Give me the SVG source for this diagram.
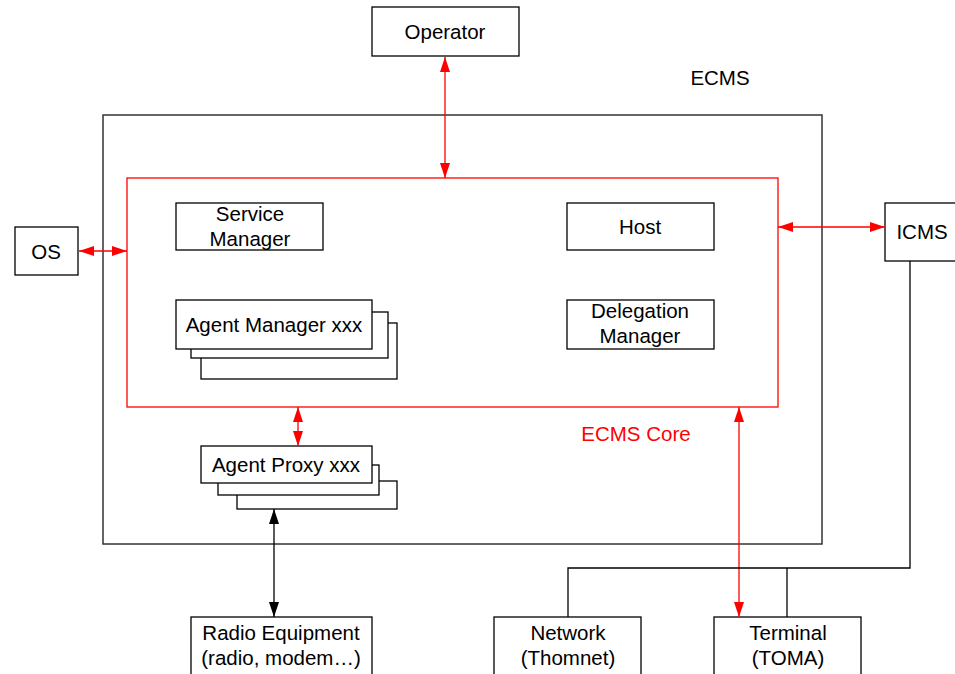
<svg xmlns="http://www.w3.org/2000/svg" width="955" height="674" viewBox="0 0 955 674">
  <defs>
    <marker id="redArrow" viewBox="0 0 15 10" refX="15" refY="5" markerWidth="15" markerHeight="10" markerUnits="userSpaceOnUse" orient="auto-start-reverse">
      <path d="M0,0 L15,5 L0,10 Z" fill="#ff0000"/>
    </marker>
    <marker id="blackArrow" viewBox="0 0 15 10" refX="15" refY="5" markerWidth="15" markerHeight="10" markerUnits="userSpaceOnUse" orient="auto-start-reverse">
      <path d="M0,0 L15,5 L0,10 Z" fill="#000000"/>
    </marker>
  </defs>
  <style>
    text { font-family: "Liberation Sans", Arial, sans-serif; font-size: 20.5px; fill: #000; text-anchor: middle; }
    .box { fill: #fff; stroke: #000; stroke-width: 1.3; }
    .outer { fill: none; stroke: #333; stroke-width: 1.5; }
    .core { fill: none; stroke: #ff0000; stroke-width: 1.3; }
    .red { stroke: #ff0000; stroke-width: 1.3; fill: none; }
    .blk { stroke: #000; stroke-width: 1.3; fill: none; }
    .redtext { fill: #ff0000; }
  </style>
  <rect width="955" height="674" fill="#fff"/>

  <!-- ECMS container -->
  <g id="ecms">
    <rect class="outer" x="103" y="115" width="719" height="429"/>
    <text x="720" y="85">ECMS</text>
  </g>

  <!-- ECMS core -->
  <g id="ecms-core">
    <rect class="core" x="127" y="178" width="651" height="229"/>
    <text class="redtext" x="636" y="441">ECMS Core</text>
  </g>

  <g id="operator">
    <rect class="box" x="372" y="7" width="147" height="49"/>
    <text x="445" y="39">Operator</text>
  </g>

  <g id="os">
    <rect class="box" x="15" y="227" width="63" height="48"/>
    <text x="46" y="259">OS</text>
  </g>

  <g id="icms">
    <rect class="box" x="885" y="203" width="75" height="58"/>
    <text x="922" y="239">ICMS</text>
  </g>

  <g id="service-manager">
    <rect class="box" x="176" y="203" width="147" height="47"/>
    <text x="250" y="221">Service</text>
    <text x="250" y="246">Manager</text>
  </g>

  <g id="host">
    <rect class="box" x="567" y="203" width="147" height="47"/>
    <text x="640" y="234">Host</text>
  </g>

  <g id="agent-manager">
    <rect class="box" x="201" y="323" width="196" height="56"/>
    <rect class="box" x="191" y="312" width="197" height="46"/>
    <rect class="box" x="176" y="300" width="196" height="49"/>
    <text x="274" y="332">Agent Manager xxx</text>
  </g>

  <g id="delegation-manager">
    <rect class="box" x="567" y="300" width="147" height="49"/>
    <text x="640" y="318">Delegation</text>
    <text x="640" y="343">Manager</text>
  </g>

  <g id="agent-proxy">
    <rect class="box" x="237" y="481" width="160" height="28"/>
    <rect class="box" x="218" y="465" width="161" height="30"/>
    <rect class="box" x="201" y="446" width="171" height="37"/>
    <text x="286" y="472">Agent Proxy xxx</text>
  </g>

  <g id="radio-equipment">
    <rect class="box" x="191" y="617" width="181" height="70"/>
    <text x="281" y="640">Radio Equipment</text>
    <text x="281" y="665">(radio, modem…)</text>
  </g>

  <g id="network">
    <rect class="box" x="494" y="617" width="147" height="70"/>
    <text x="568" y="640">Network</text>
    <text x="568" y="665">(Thomnet)</text>
  </g>

  <g id="terminal">
    <rect class="box" x="714" y="617" width="147" height="70"/>
    <text x="788" y="640">Terminal</text>
    <text x="788" y="665">(TOMA)</text>
  </g>

  <!-- connectors -->
  <g id="connectors">
    <line class="red" x1="445" y1="57" x2="445" y2="178" marker-start="url(#redArrow)" marker-end="url(#redArrow)"/>
    <line class="red" x1="79" y1="251" x2="127" y2="251" marker-start="url(#redArrow)" marker-end="url(#redArrow)"/>
    <line class="red" x1="778" y1="227" x2="885" y2="227" marker-start="url(#redArrow)" marker-end="url(#redArrow)"/>
    <line class="red" x1="298" y1="407" x2="298" y2="446" marker-start="url(#redArrow)" marker-end="url(#redArrow)"/>
    <line class="red" x1="739" y1="407" x2="739" y2="617" marker-start="url(#redArrow)" marker-end="url(#redArrow)"/>
    <line class="blk" x1="274" y1="509" x2="274" y2="617" marker-start="url(#blackArrow)" marker-end="url(#blackArrow)"/>
    <polyline class="blk" points="910,261 910,568 568,568 568,617"/>
    <line class="blk" x1="787" y1="568" x2="787" y2="617"/>
  </g>
</svg>
